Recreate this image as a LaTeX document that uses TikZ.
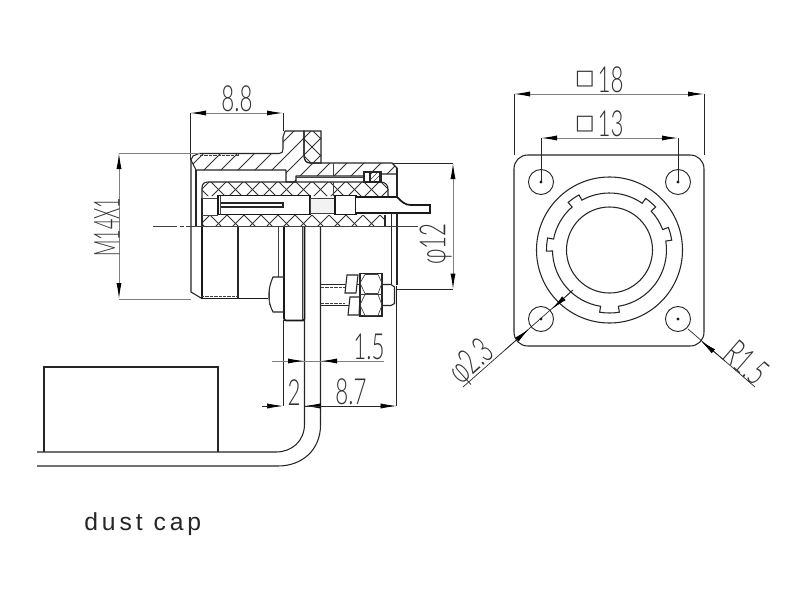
\documentclass[tikz,border=0pt]{standalone}
\usepackage{fontspec}
\setmainfont{Liberation Sans}
\newfontfamily\cadfont{Lato Light}
\newfontfamily\boxfont{DejaVu Sans}
\newfontfamily\capfont[LetterSpace=16]{Liberation Sans}
\usetikzlibrary{arrows.meta}
\tikzset{
  thinln/.style={line width=0.5pt,black!75},
  medln/.style={line width=0.8pt,black!85},
  thickln/.style={line width=1.3pt,black!90},
  extln/.style={line width=0.5pt,black!85},
  dimln/.style={line width=0.75pt,black!50},
  hatchln/.style={line width=0.55pt,black!80},
  dtip/.tip={Latex[length=12pt,width=3.8pt,color=black]},
  cad/.style={inner sep=0pt,font=\cadfont\fontsize{27}{27}\selectfont,black!80},
}
\newcommand{\cadtxt}[2][0.62]{\scalebox{#1}[1]{#2}}
\newcommand{\hatchf}{\foreach \c in {0,17,...,1200}{\draw[hatchln] (\c,0)--(\c-600,600);}}
\newcommand{\hatchc}{\foreach \c in {0,17,...,1200}{\draw[hatchln] (\c,0)--(\c-600,600);\draw[hatchln] (\c-600,0)--(\c,600);}}
\begin{document}
\begin{tikzpicture}[x=0.75pt,y=-0.75pt]
\useasboundingbox (0,0) rectangle (800,600);
\fill[white] (0,0) rectangle (800,600);

% ---- hatched housing
\def\housing{(191,160)--(193,156)--(199,153.5)--(279,153.5)
  .. controls (282,153.5) and (283,152) .. (283,149)--(283,137)--(285,131)--(304,131)--(304,155)
  .. controls (304,160) and (306,163) .. (310,163)--(392,163)--(397,168)--(397,174)--(381,174)--(364,174)--(364,176)--(296,176)--(296,182)--(286,182)--(286,170)--(196,170)--(191,160)--cycle}
\begin{scope}\clip \housing; \hatchf \end{scope}
\draw[medln,line join=round] \housing;
% ---- crosshatched front ring
\def\ring{(304,131)--(321,131)--(321,163)--(310,163) .. controls (306,163) and (304,160) .. (304,155)--cycle}
\begin{scope}\clip \ring; \hatchc \end{scope}
\draw[medln] \ring;
% ---- crosshatched insulator
\def\insa{(202,196)--(202,188) .. controls (202,184) and (204,182) .. (208,182)--(381,182) .. controls (385,182) and (388,185) .. (388,189)--(388,196)--cycle}
\def\insb{(202,215)--(385,215)--(385,226)--(202,226)--cycle}
\begin{scope}\clip \insa; \hatchc \end{scope}
\begin{scope}\clip \insb; \hatchc \end{scope}
\draw[medln] (202,198)--(202,188) .. controls (202,184) and (204,182) .. (208,182)--(381,182) .. controls (385,182) and (388,185) .. (388,189)--(388,196);
\draw[medln] (202,226)--(202,198);
\draw[thickln] (202,226)--(202,298);
\draw[thinln] (202,198)--(218,198) (202,215)--(218,215);
\draw[medln] (385,215)--(385,226);
\draw[thinln] (333,182)--(333,196) (296,177.5)--(364,177.5);
\draw[thinln] (333,163)--(333,176);
% ---- o-ring
\draw[medln,fill=white] (364,172) rectangle (381,182);
\begin{scope}\clip (370,172.5) rectangle (380,181.5); \foreach \c in {0,5,...,1200}{\draw[thinln] (\c,0)--(\c-600,600);} \end{scope}
\draw[medln] (370,172.5) rectangle (380,181.5);
% ---- contact
\draw[thickln,fill=white] (218,195.5) rectangle (310,214.5);
\draw[thinln] (220.5,195.5)--(220.5,214.5);
\draw[medln] (220.5,203)--(283,203)--(283,207)--(220.5,207);
\draw[thinln,fill=black!5] (310,198) rectangle (335,213);
\draw[thickln,fill=white] (335,195.5) rectangle (356,214.5);
\draw[thickln,fill=white] (356,197) --(397,197) .. controls (402,202) and (405,205) .. (411,205)--(430,205)--(430,213)--(356,213);
% ---- right wall
\draw[medln] (397,168)--(397,197) (397,213)--(397,285);
\draw[medln] (391.5,213)--(391.5,284);
\draw[thinln] (385,226)--(418,226);
% ---- left body
\draw[medln] (191,160)--(191,292)--(201,298);
\draw[medln] (196,170)--(196,226);
\draw[medln] (238,226)--(238,298.5);
\draw[thickln] (201,298.5)--(268,298.5);
\draw[thinln,dash pattern=on 2.5pt off 0.8pt] (201,296)--(238,296);
\draw[thinln,dash pattern=on 2.5pt off 0.8pt] (200,155.5)--(238,155.5)--(238,153.5);
% ---- plate and button
\draw[thinln] (278.5,226)--(278.5,277);
\draw[thickln] (284,226)--(284,318) .. controls (284,320) and (285,320.5) .. (286,320.5)--(303,320.5)--(304.5,319)--(304.5,226);
\draw[thinln] (302,226)--(302,320);
\draw[medln] (284,277)--(273,277) .. controls (268,288) and (267,301) .. (273,312)--(284,312);
\draw[thinln] (269,290)--(269,305);
% ---- wire and cap
\draw[extln] (283,320)--(283,406);
\draw[medln] (304.5,320) -- (304.5,424) .. controls (304.5,441) and (292,452) .. (276,452)--(37,452);
\draw[medln] (320.5,226)--(320.5,425) .. controls (320.5,450) and (302,466) .. (278,466)--(37,466);
\draw[medln] (44,452)--(44,367)--(218,367)--(218,452);
% ---- bolt and nuts
\draw[medln] (321,284.5)--(382,284.5)  (321,305.5)--(382,305.5);
\draw[thinln,dash pattern=on 2.5pt off 0.8pt] (321,287)--(345,287) (321,303)--(345,303);
\draw[medln] (382,284.5)--(391,284.5)--(394.5,287)--(394.5,303.5)--(391,305.5)--(382,305.5);
\draw[thickln] (396.5,286)--(396.5,305);
\draw[medln,fill=white] (347,275)--(358,275)--(356,293)--(345,293)--cycle;
\draw[medln,fill=white] (350,297)--(360,297)--(359,315)--(348,315)--cycle;
\draw[medln,fill=white] (360,273.5) rectangle (382,316);
\draw[thinln] (360,294)--(382,294);
\draw[thinln] (360,283)--(365,274.5)--(378,274.5)--(382,283)--(378,293.5)--(365,293.5)--cycle;
\draw[thinln] (360,305)--(365,294.5)--(378,294.5)--(382,305)--(378,315.5)--(365,315.5)--cycle;
% ---- centre line
\draw[thinln,dash pattern=on 18pt off 2pt on 3pt off 2pt] (153,226)--(191,226);
\draw[thinln] (191,226)--(385,226);

% ---- dimension 8.8
\draw[extln] (190,113)--(190,160) (283,113)--(283,131);
\draw[dimln,{dtip}-{dtip}] (190,113)--(283,113);
\node[cad,anchor=south] (d88) at (237,112) {\cadtxt{8.8}};
% ---- dimension M14X1
\draw[dimln] (119,153)--(200,153) (119,299)--(191,299);
\draw[dimln,{dtip}-{dtip}] (119,153)--(119,299);
\node[cad,rotate=90,anchor=south] (dm) at (120,227) {\cadtxt[0.5]{M14X1}};
% ---- dimension 12
\draw[extln] (392,163)--(453,163) (397,289.5)--(453,289.5);
\draw[dimln,{dtip}-{dtip}] (453,163)--(453,289.5);
\node[cad,rotate=90,anchor=south] (d12) at (452,244) {\cadtxt{φ12}};
% ---- dimension 1.5
\draw[dimln] (272,361)--(384,361);
\draw[dimln,-{dtip}] (272,361)--(304,361);
\draw[dimln,-{dtip}] (384,361)--(321,361);
\node[cad,anchor=south] (d15) at (369,360.5) {\cadtxt{1.5}};
% ---- dimension 2 and 8.7
\draw[extln] (396.5,305)--(396.5,406);
\draw[extln,-{dtip}] (262,406)--(283,406);
\draw[extln,-{dtip}] (330,406)--(304.5,406);
\draw[extln,-{dtip}] (304.5,406)--(396.5,406);
\node[cad,anchor=south] (d2) at (294,405.5) {\cadtxt{2}};
\node[cad,anchor=south] (d87) at (351,405.5) {\cadtxt{8.7}};

% ---- front view
\draw[medln] (528,155) -- (690,155) .. controls (698,155) and (704,161) .. (704,169) -- (704,332) .. controls (704,340) and (698,346) .. (690,346) -- (528,346) .. controls (520,346) and (514,340) .. (514,332) -- (514,169) .. controls (514,161) and (520,155) .. (528,155) -- cycle;
\foreach \hx/\hy in {541/182,678/182,541/319,678/319}{
  \draw[line width=0.7pt,black!85] (\hx,\hy) circle[radius=12.5];
  \fill[black!90] (\hx,\hy) circle[radius=1.6];
}
\begin{scope}[shift={(609.5,250)},yscale=-1]
  \draw[medln] (0,0) circle[radius=73];
  \draw[medln] (0,0) circle[radius=43];
  \draw[medln] (21:57) arc[start angle=21,end angle=43,radius=57]
    -- (43:63) arc[start angle=43,end angle=55,radius=63] -- (55:57)
    arc[start angle=55,end angle=119,radius=57]
    -- (119:63) arc[start angle=119,end angle=131,radius=63] -- (131:57)
    arc[start angle=131,end angle=169,radius=57]
    -- (169:63) arc[start angle=169,end angle=181,radius=63] -- (181:57)
    arc[start angle=181,end angle=261,radius=57]
    -- (261:63) arc[start angle=261,end angle=279,radius=63] -- (279:57)
    arc[start angle=279,end angle=369,radius=57]
    -- (9:63) arc[start angle=9,end angle=21,radius=63] -- cycle;
\end{scope}
% ---- dimension square 18
\draw[extln] (514,94)--(514,155) (704,94)--(704,155);
\draw[dimln,{dtip}-{dtip}] (514,94)--(704,94);
\node[inner sep=0pt,font=\boxfont\fontsize{15.5}{16}\selectfont,black!80] (s18) at (585,79) {□};
\node[cad,anchor=south] (d18) at (610.5,93) {\cadtxt{18}};
% ---- dimension square 13
\draw[extln] (541,138)--(541,182) (678,138)--(678,182);
\draw[dimln,{dtip}-{dtip}] (541,138)--(678,138);
\node[inner sep=0pt,font=\boxfont\fontsize{15.5}{16}\selectfont,black!80] (s13) at (585,124) {□};
\node[cad,anchor=south] (d13) at (610.5,137) {\cadtxt{13}};
% ---- dimension 2.3
\draw[extln] (463,387)--(573,290);
\draw[extln,-{dtip}] (505,350)--(529,329);
\draw[extln,-{dtip}] (573,290)--(552,309);
\node[cad,rotate=42,anchor=south] (d23) at (483,375) {\cadtxt{φ2.3}};
% ---- dimension R1.5
\draw[extln] (688,329)--(755,387);
\draw[extln,-{dtip}] (725,361)--(701,341);
\node[cad,rotate=-41,anchor=south] (r15) at (738,373) {\cadtxt{R1.5}};
% ---- caption
\node[inner sep=0pt,anchor=base west,font=\capfont\fontsize{18.5}{20}\selectfont,black!85] (cap) at (84,530) {dust cap};
\end{tikzpicture}
\end{document}
